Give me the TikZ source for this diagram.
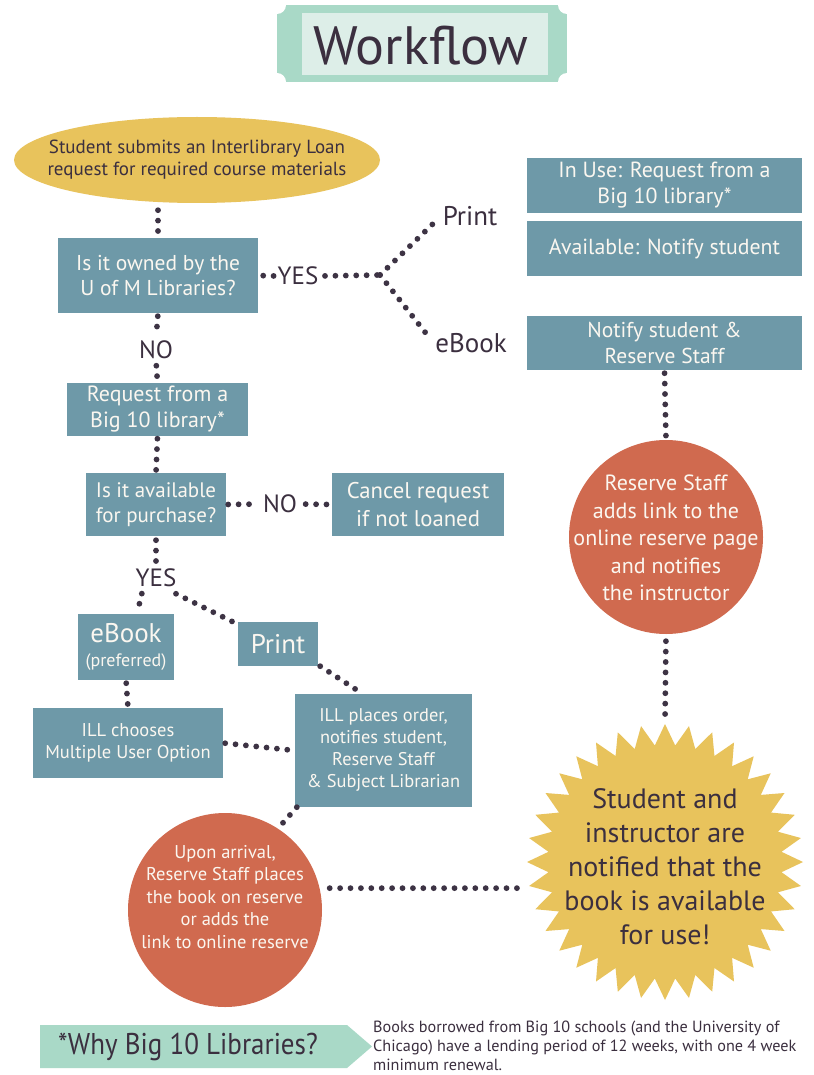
\documentclass[tikz,border=0pt]{standalone}
\usepackage{fontspec}
\setmainfont{PT Sans}
\usetikzlibrary{shapes.geometric,calc}
\definecolor{boxc}{HTML}{6E99A8}
\definecolor{boxtext}{HTML}{FBF7F0}
\definecolor{goldc}{HTML}{E8C35C}
\definecolor{orangec}{HTML}{D06A4F}
\definecolor{darktext}{HTML}{3B2F3F}
\definecolor{dotc}{HTML}{3D3344}
\definecolor{mintc}{HTML}{A9D9C7}
\definecolor{palemint}{HTML}{DDEEE8}
\newcommand{\myfs}[2]{\fontsize{#1}{#2}\selectfont}
\begin{document}
\begin{tikzpicture}[x=1pt,y=-1pt,
  box/.style={fill=boxc, text=boxtext, align=center, inner sep=0pt, font=\myfs{21.5}{25}},
  lbl/.style={text=darktext, inner sep=1.5pt, font=\myfs{25}{28}},
  disc/.style={circle, fill=orangec, inner sep=0pt, minimum size=194pt},
  disctext/.style={text=boxtext, align=center, inner sep=0pt},
  dotline/.style={draw=dotc, line width=5.8pt, line cap=round, dash pattern=on 0pt off 10.4pt},
]
\useasboundingbox (0,0) rectangle (813,1075);
\fill[white] (0,0) rectangle (813,1075);

% title
\fill[mintc] (277,5) rectangle (567,82);
\foreach \cx/\cy in {277/5,567/5,277/82,567/82} \fill[white] (\cx,\cy) circle (9);
\fill[palemint] (302,13) rectangle (548,75);
\node[text=darktext, inner sep=0pt, font=\myfs{54}{60}, anchor=base] (title) at (421,65) {Workflow};

% start
\node[ellipse, fill=goldc, minimum width=366pt, minimum height=86pt, inner sep=0pt] (start) at (197,160) {};
\node[text=darktext, inner sep=0pt, align=center, font=\myfs{19}{22}] (starttext) at (197,160)
      {Student submits an Interlibrary Loan\\request for required course materials};

% left column
\node[box, minimum width=200pt, minimum height=75pt] (q1) at (158,275.5) {Is it owned by the\\U of M Libraries?};
\node[lbl] (yes1) at (298,276) {YES};
\coordinate (br) at (380,275);
\node[lbl, font=\myfs{27}{30}] (print1) at (470,216) {Print};
\node[lbl, font=\myfs{27}{30}] (ebook1) at (471,343) {eBook};
\node[lbl] (no1) at (156,350) {NO};
\node[box, minimum width=181pt, minimum height=53pt, font=\myfs{22}{26}] (req) at (157.5,409.5) {Request from a\\Big 10 library*};
\node[box, minimum width=140pt, minimum height=63pt, font=\myfs{21}{25}] (q2) at (156,504.5) {Is it available\\for purchase?};
\node[lbl] (no2) at (280,504) {NO};
\node[box, minimum width=172pt, minimum height=63pt, font=\myfs{22.7}{28}] (cancel) at (418,504.5) {Cancel request\\if not loaned};
\node[lbl] (yes2) at (156,578) {YES};
\node[box, minimum width=96pt, minimum height=66pt, font=\myfs{27}{24}] (ebook2) at (126,647) {eBook\\{\myfs{18}{20}(preferred)}};
\node[box, minimum width=80pt, minimum height=44pt, font=\myfs{27}{28}] (print2) at (278,644) {Print};
\node[box, minimum width=190pt, minimum height=70pt, font=\myfs{18.5}{22}] (ill1) at (128,743) {ILL chooses\\Multiple User Option};
\node[box, minimum width=177pt, minimum height=113pt, font=\myfs{18.4}{22}] (ill2) at (383.5,750.5) {ILL places order,\\notifies student,\\Reserve Staff\\\& Subject Librarian};
\node[disc] (circle2) at (225,910) {};
\node[disctext, font=\myfs{18.5}{22.5}] (c2text) at (225,897) {Upon arrival,\\Reserve Staff places\\the book on reserve\\or adds the\\link to online reserve};

% right column
\node[box, minimum width=275pt, minimum height=55pt, font=\myfs{21.9}{26}] (rb1) at (664.5,185.5) {In Use: Request from a\\Big 10 library*};
\node[box, minimum width=275pt, minimum height=55pt, font=\myfs{21.8}{26}] (rb2) at (664.5,248.5) {Available: Notify student};
\node[box, minimum width=275pt, minimum height=54pt, font=\myfs{21.5}{26}] (rb3) at (664.5,343) {Notify student \&\\Reserve Staff};
\node[disc] (circle1) at (666,537) {};
\node[disctext, font=\myfs{22}{27.5}] (c1text) at (666,538) {Reserve Staff\\adds link to the\\online reserve page\\and notifies\\the instructor};
\node[star, star points=36, star point ratio=1.18, fill=goldc, minimum size=276pt, inner sep=0pt] (star) at (665,862) {};
\node[text=darktext, align=center, inner sep=0pt, font=\myfs{28}{34}] (startext) at (665,867) {Student and\\instructor are\\notified that the\\book is available\\for use!};

% connectors
\draw[dotline, shorten <=7pt, shorten >=4pt] (q1.north |- start.south) -- (q1.north);
\draw[dotline, shorten <=5pt] (q1.east) -- (yes1.west);
\draw[dotline, shorten <=5pt] (yes1.east) -- (br);
\draw[dotline, shorten >=9pt] (br) -- (print1.west);
\draw[dotline, shorten >=6pt] (br) -- (ebook1.west);
\draw[dotline, shorten <=3pt, shorten >=4pt] (q1.south) -- (no1.north);
\draw[dotline, shorten <=5pt, shorten >=5pt] (no1.south) -- (req.north);
\draw[dotline, shorten <=2.5pt, shorten >=2.5pt] (req.south) -- (q2.north);
\draw[dotline, shorten <=2pt, shorten >=5pt] (q2.east) -- (no2.west);
\draw[dotline, shorten <=7pt, shorten >=5pt] (no2.east) -- (cancel.west);
\draw[dotline, shorten <=4pt, shorten >=4.5pt] (q2.south) -- (yes2.north);
\draw[dotline, shorten <=5pt, shorten >=3pt] ($(yes2.south)+(-13,0)$) -- ($(ebook2.north)+(11,0)$);
\draw[dotline] ($(yes2.south east)+(-2,5)$) -- ($(print2.north west)+(-5,0)$);
\draw[dotline, shorten <=3pt, shorten >=3pt] (ebook2.south) -- (ill1.north);
\draw[dotline, shorten <=2pt] (ill1.east) -- (ill2.west);
\draw[dotline] ($(print2.south east)+(2,0)$) -- ($(ill2.north)+(-27,-4)$);
\draw[dotline] ($(ill2.south west)+(2,0)$) -- (circle2.57);
\draw[dotline, shorten <=10pt] (circle2.13) -- (circle2.13 -| star.west);
\draw[dotline, shorten <=3pt, shorten >=4pt] (rb3.south) -- (circle1.north);
\draw[dotline, shorten <=7pt] (circle1.south) -- (star.north);

% footnote banner
\fill[mintc] (40,1025) -- (347,1025) -- (372,1046.5) -- (347,1068) -- (40,1068) -- cycle;
\node[text=darktext, inner sep=0pt, font=\myfs{30}{32}] (why) at (188,1047) {\scalebox{0.9}[1]{*Why Big 10 Libraries?}};
\node[text=darktext, inner sep=0pt, anchor=north west, align=left, font=\myfs{16.2}{19}] (whynote) at (373,1020.5)
  {Books borrowed from Big 10 schools (and the University of\\Chicago) have a lending period of 12 weeks, with one 4 week\\minimum renewal.};
\end{tikzpicture}
\end{document}
